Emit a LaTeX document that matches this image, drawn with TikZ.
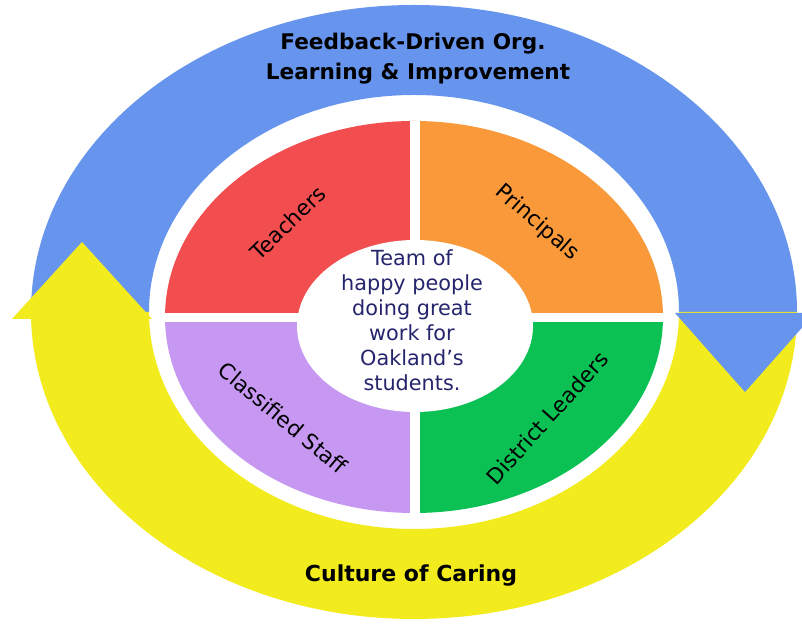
\documentclass[tikz,border=0pt]{standalone}
\usepackage{fontspec}
\setmainfont{DejaVu Sans}
\definecolor{bandblue}{HTML}{6795EE}
\definecolor{bandyellow}{HTML}{F2EC1E}
\definecolor{qred}{HTML}{F24D4F}
\definecolor{qorange}{HTML}{F9993A}
\definecolor{qgreen}{HTML}{0BC153}
\definecolor{qpurple}{HTML}{C698F2}
\definecolor{navytext}{HTML}{25256E}
\tikzset{
  bandtitle/.style={font=\bfseries\fontsize{21.6}{25}\selectfont, text=black, inner sep=0pt, anchor=base},
  quadlabel/.style={font=\fontsize{21.5}{25}\selectfont, text=black, inner sep=0pt},
  centertext/.style={font=\fontsize{20.8}{25}\selectfont, text=navytext, align=center, inner sep=0pt}
}
\begin{document}
\begin{tikzpicture}[x=1pt,y=1pt]
\useasboundingbox (0,0) rectangle (802,628);
\clip (0,0) rectangle (802,628);
\fill[white] (0,0) rectangle (802,628);
% blue band (upper half)
\fill[bandblue] (31,316) arc[start angle=180,end angle=0,x radius=383,y radius=307]
  -- (679,316) arc[start angle=0,end angle=180,x radius=265,y radius=217] -- cycle;
% yellow band (lower half)
\fill[bandyellow] (31,316) arc[start angle=180,end angle=360,x radius=383,y radius=307]
  -- (679,316) arc[start angle=360,end angle=180,x radius=265,y radius=217] -- cycle;
% arrow heads
\fill[bandyellow] (12,309) -- (152,309) -- (82,386) -- cycle;
\fill[bandblue] (675,315) -- (815,315) -- (745,236) -- cycle;
% quadrants
\begin{scope}
  \clip (414,311) ellipse [x radius=249,y radius=196];
  \fill[qred] (414,311) rectangle (100,600);
  \fill[qorange] (414,311) rectangle (700,600);
  \fill[qpurple] (414,311) rectangle (100,0);
  \fill[qgreen] (414,311) rectangle (700,0);
  \fill[white] (410,0) rectangle (420,628);
  \fill[white] (0,306) rectangle (802,315);
\end{scope}
\fill[white] (415,302) ellipse [x radius=118,y radius=86];
% texts
\node[bandtitle] (title1) at (413,578) {Feedback-Driven Org.};
\node[bandtitle] (title2) at (418,548) {Learning \& Improvement};
\node[bandtitle, font=\bfseries\fontsize{22}{25}\selectfont] (caring) at (411,46) {Culture of Caring};
\node[centertext] (team) at (412,308) {Team of\\happy people\\doing great\\work for\\Oakland’s\\students.};
\node[quadlabel, rotate=44] (teachers) at (288,405) {Teachers};
\node[quadlabel, rotate=-41] (principals) at (537,405) {Principals};
\node[quadlabel, rotate=-40] (classified) at (283,210) {Classified Staff};
\node[quadlabel, rotate=48] (district) at (547,210) {District Leaders};
\end{tikzpicture}
\end{document}
